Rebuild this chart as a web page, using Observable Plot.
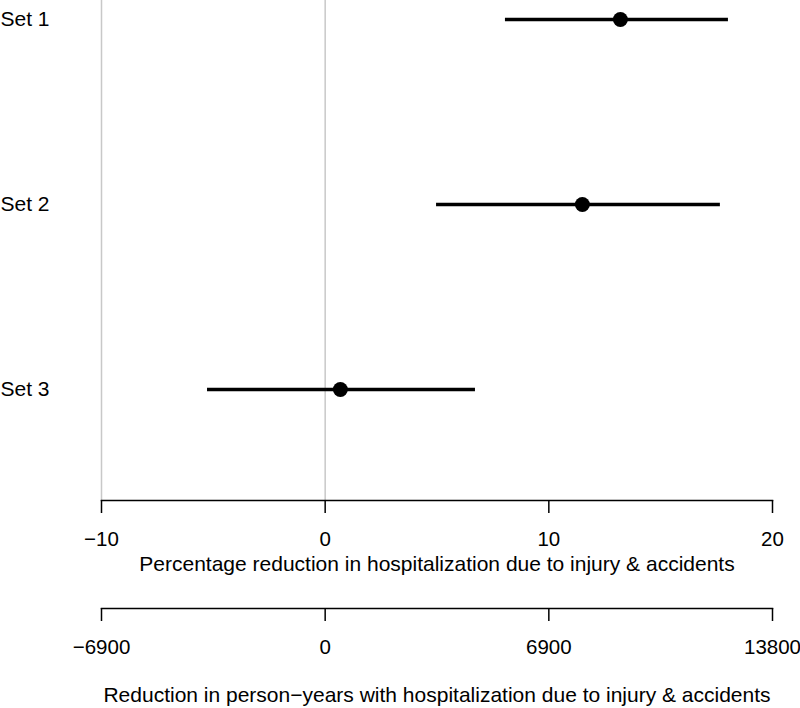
<!DOCTYPE html>
<html>
<head>
<meta charset="utf-8">
<script src="https://cdn.jsdelivr.net/npm/d3@7"></script>
<script src="https://cdn.jsdelivr.net/npm/@observablehq/plot@0.6"></script>
<style>
  html, body { margin: 0; padding: 0; background: #fff; }
  #chart svg { display: block; }
</style>
</head>
<body>
<div id="chart"></div>
<script>
const sets = ["Set 1", "Set 2", "Set 3"];
const estimate = [13.2, 11.5, 0.68];
const lower = [8.06, 4.98, -5.26];
const upper = [18.03, 17.67, 6.72];
const pctTicks = [-10, 0, 10, 20];
const pyTicks = [-6900, 0, 6900, 13800];
const gridAt = [-10, 0];
const title1 = "Percentage reduction in hospitalization due to injury & accidents";
const title2 = "Reduction in person\u2212years with hospitalization due to injury & accidents";

const rows = sets.map((s, i) => ({set: s, est: estimate[i], lo: lower[i], hi: upper[i]}));

const font = "'Liberation Sans', Arial, Helvetica, sans-serif";
const W = 800, ML = 101, MR = 28, FS = 21, TFS = 20.5;
const fmt = d => d < 0 ? "\u2212" + Math.abs(d) : String(d);

const p1 = Plot.plot({
  width: W,
  height: 590,
  marginLeft: ML,
  marginRight: MR,
  marginTop: 0,
  marginBottom: 90,
  style: {fontFamily: font, fontSize: FS + "px", background: "white", color: "black"},
  x: {domain: [-10, 20], axis: null},
  y: {domain: sets, type: "point", range: [19, 389], padding: 0, axis: null},
  marks: [
    Plot.ruleX(gridAt, {stroke: "#c8c8c8", strokeWidth: 1.5}),
    Plot.frame({anchor: "bottom", stroke: "black", strokeWidth: 1.5}),
    Plot.axisX(pctTicks, {tickSize: 13, tickPadding: 18, tickFormat: fmt, stroke: "black", strokeWidth: 1.5, fontSize: TFS, label: null}),
    Plot.axisY(sets, {tickSize: 0, tickPadding: ML, textAnchor: "start", fontSize: FS, label: null}),
    Plot.ruleY(rows, {y: "set", x1: "lo", x2: "hi", stroke: "black", strokeWidth: 3.5}),
    Plot.dot(rows, {y: "set", x: "est", r: 7.5, fill: "black", stroke: "none"}),
    Plot.text([title1], {frameAnchor: "bottom", dy: 70, fontSize: FS, fill: "black"})
  ]
});

const p2 = Plot.plot({
  width: W,
  height: 118,
  marginLeft: ML,
  marginRight: MR,
  marginTop: 18,
  marginBottom: 100,
  style: {fontFamily: font, fontSize: FS + "px", background: "white", color: "black"},
  x: {domain: [-6900, 13800], axis: null},
  marks: [
    Plot.frame({anchor: "bottom", stroke: "black", strokeWidth: 1.5}),
    Plot.axisX(pyTicks, {tickSize: 13, tickPadding: 18, tickFormat: fmt, stroke: "black", strokeWidth: 1.5, fontSize: TFS, label: null}),
    Plot.text([title2], {frameAnchor: "bottom", dy: 93, fontSize: FS, fill: "black"})
  ]
});

document.getElementById("chart").append(p1, p2);
</script>
</body>
</html>
